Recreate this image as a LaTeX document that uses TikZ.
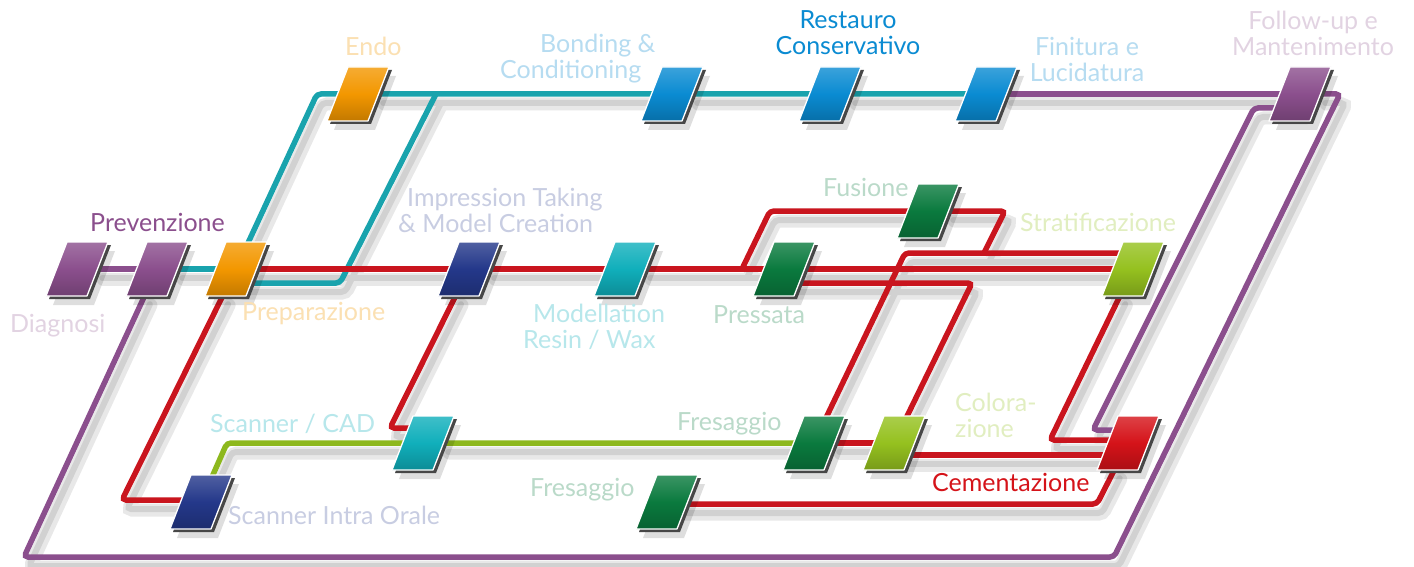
\documentclass[tikz,border=0pt]{standalone}
\usepackage{fontspec}
\setmainfont{Lato}
\usetikzlibrary{calc}
\definecolor{cpurp}{HTML}{8B4F8D}
\definecolor{cteal}{HTML}{19A3AD}
\definecolor{cred}{HTML}{C9151E}
\definecolor{cgreen}{HTML}{8DB81D}
\definecolor{corng}{HTML}{F39700}
\definecolor{cblue}{HTML}{0A8BD2}
\definecolor{cnavy}{HTML}{24388A}
\definecolor{ccyan}{HTML}{10AFBB}
\definecolor{cdgrn}{HTML}{0A7A3E}
\definecolor{clgrn}{HTML}{95C11F}
\definecolor{crbox}{HTML}{D51319}
\pgfdeclarelayer{back}
\pgfdeclarelayer{shd}
\pgfdeclarelayer{bg}
\pgfsetlayers{back,shd,bg,main}
\newcommand\PB[2]{%
  \fill[black,opacity=0.13] ([shift={(7,9)}]#1.center) ++(-10,-27) -- ++(41,0) -- ++(-21,54) -- ++(-41,0) -- cycle;
  \fill[black!72] ([shift={(3,3)}]#1.center) ++(-10,-27) -- ++(41,0) -- ++(-21,54) -- ++(-41,0) -- cycle;
  \shade[top color=#2!80!white, bottom color=#2!80!black, middle color=#2, draw=white, line width=1.3pt, line join=round]
    (#1.center) ++(-10,-27) -- ++(41,0) -- ++(-21,54) -- ++(-41,0) -- cycle;
}
% all connectors, drawn with the style given as #1
\newcommand\Wires[1]{%
  % purple
  \draw[#1=cpurp] (diag) -- (prev);
  \draw[#1=cpurp] (prev) -- (24,557) -- (1114,557) -- (1340,94) -- (foll);
  \draw[#1=cpurp] (fini) -- (foll);
  \draw[#1=cpurp] (foll.center |- 0,108) -- (1254,108) -- (1093,430) -- (cem.center |- 0,430);
  % teal
  \draw[#1=cteal] (prev) -- (prep);
  \draw[#1=cteal] (prep) -- (317,94) -- (endo) -- (bond) -- (rest) -- (fini);
  \draw[#1=cteal] (prep.center |- 0,283) -- (340,283) -- (436,94);
  % red
  \draw[#1=cred] (prep) -- (impr) -- (mode) -- (press) -- (strat);
  \draw[#1=cred] (742,269) -- (770,211) -- (fus) -- (1005,211) -- (984,253);
  \draw[#1=cred] (fres1) -- (905,253) -- (strat.center |- 0,253);
  \draw[#1=cred] (press.center |- 0,283) -- (972,283) -- (colo);
  \draw[#1=cred] (strat) -- (1050,440) -- (cem.center |- 0,440);
  \draw[#1=cred] (fres1) -- (colo);
  \draw[#1=cred] (colo.center |- 0,455) -- (cem.center |- 0,455);
  \draw[#1=cred] (prep) -- (122,500) -- (sio.center |- 0,500);
  \draw[#1=cred] (impr) -- (390,428) -- (scad.center |- 0,428);
  \draw[#1=cred] (fres2.center |- 0,504) -- (1097,504) -- (cem);
  % green
  \draw[#1=cgreen] (sio) -- (227,443) -- (scad) -- (fres1);
}
\begin{document}
\begin{tikzpicture}[x=1pt,y=-1pt,
  box/.style={minimum width=40pt, minimum height=52pt, inner sep=0pt},
  conn/.style={draw=#1, line width=5.5pt, rounded corners=4pt, line cap=round},
  shwide/.style={draw=black!9, line width=13pt, rounded corners=4pt, line cap=round,
    transform canvas={shift={(6pt,-10pt)}}},
  shcore/.style={draw=black!18, line width=6pt, rounded corners=4pt, line cap=round,
    transform canvas={shift={(5pt,-9pt)}}},
  lab/.style={inner sep=0pt, font=\fontsize{25}{26}\selectfont, text=#1}]
\begin{pgfonlayer}{back}
\fill[white] (0,0) rectangle (1414,567);
\end{pgfonlayer}
\useasboundingbox (0,0) rectangle (1414,567);

% box anchors
\node[box] (diag) at (77,269) {};
\node[box] (prev) at (157,269) {};
\node[box] (prep) at (236,269) {};
\node[box] (endo) at (358,94) {};
\node[box] (bond) at (672,94) {};
\node[box] (rest) at (830,94) {};
\node[box] (fini) at (986,94) {};
\node[box] (foll) at (1300,94) {};
\node[box] (impr) at (469,269) {};
\node[box] (mode) at (625,269) {};
\node[box] (press) at (784,269) {};
\node[box] (fus) at (928,211) {};
\node[box] (strat) at (1133,269) {};
\node[box] (scad) at (423,443) {};
\node[box] (fres1) at (814,443) {};
\node[box] (colo) at (894,443) {};
\node[box] (cem) at (1128,443) {};
\node[box] (sio) at (201,502) {};
\node[box] (fres2) at (667,502) {};

\PB{diag}{cpurp}
\PB{prev}{cpurp}
\PB{prep}{corng}
\PB{endo}{corng}
\PB{bond}{cblue}
\PB{rest}{cblue}
\PB{fini}{cblue}
\PB{foll}{cpurp}
\PB{impr}{cnavy}
\PB{mode}{ccyan}
\PB{press}{cdgrn}
\PB{fus}{cdgrn}
\PB{strat}{clgrn}
\PB{scad}{ccyan}
\PB{fres1}{cdgrn}
\PB{colo}{clgrn}
\PB{cem}{crbox}
\PB{sio}{cnavy}
\PB{fres2}{cdgrn}

% labels
\node[lab=corng!30!white, anchor=west] (lendo) at (345,46) {Endo};
\node[lab=cblue!30!white, anchor=west, align=left] (lbond) at (500,59) {\hspace*{40pt}Bonding \&\\Conditioning};
\node[lab=cblue, align=center] (lrest) at (848,33) {Restauro\\Conservativo};
\node[lab=cblue!30!white, align=center] (lfini) at (1087,59) {Finitura e\\Lucidatura};
\node[lab=cpurp!25!white, align=center] (lfoll) at (1313,33) {Follow-up e\\Mantenimento};
\node[lab=cpurp, anchor=west] (lprev) at (90,222) {Prevenzione};
\node[lab=cpurp!25!white, anchor=west] (ldiag) at (10,326) {Diagnosi};
\node[lab=corng!30!white, anchor=west] (lprep) at (242,314) {Preparazione};
\node[lab=cnavy!25!white, anchor=west, align=left] (limpr) at (398,210) {\hspace*{9pt}Impression Taking\\\& Model Creation};
\node[lab=ccyan!30!white, anchor=west, align=left] (lmode) at (523,327) {\hspace*{10pt}Modellation\\Resin / Wax};
\node[lab=cdgrn!28!white, anchor=west] (lpress) at (713,315) {Pressata};
\node[lab=cdgrn!28!white, anchor=west] (lfus) at (823,187) {Fusione};
\node[lab=clgrn!28!white, anchor=west] (lstrat) at (1020,222) {Stratificazione};
\node[lab=clgrn!28!white, anchor=west, align=left] (lcolo) at (955,415) {Colora-\\zione};
\node[lab=crbox, anchor=west] (lcem) at (932,482) {Cementazione};
\node[lab=ccyan!30!white, anchor=west] (lscad) at (210,424) {Scanner / CAD};
\node[lab=cdgrn!28!white, anchor=west] (lfres1) at (677,424) {Fresaggio};
\node[lab=cdgrn!28!white, anchor=west] (lfres2) at (530,490) {Fresaggio};
\node[lab=cnavy!25!white, anchor=west] (lsio) at (228,515) {Scanner Intra Orale};

\begin{pgfonlayer}{shd}
\Wires{shwide}
\Wires{shcore}
\end{pgfonlayer}
\begin{pgfonlayer}{bg}
\Wires{conn}
\end{pgfonlayer}
\end{tikzpicture}
\end{document}
